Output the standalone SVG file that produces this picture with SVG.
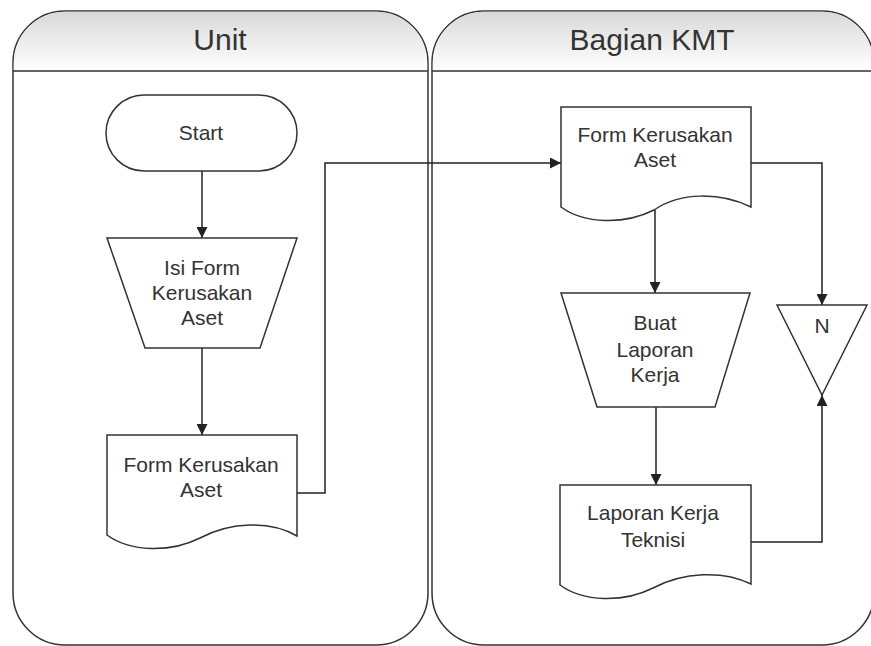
<svg xmlns="http://www.w3.org/2000/svg" width="871" height="646" viewBox="0 0 871 646">
  <style>
    .lane { fill: #ffffff; stroke: #333333; stroke-width: 1.5; }
    .hdr { fill: url(#hdrGrad); stroke: none; }
    .sep { stroke: #333333; stroke-width: 1.5; }
    .shape { fill: #ffffff; stroke: #333333; stroke-width: 1.5; }
    .conn { fill: none; stroke: #222222; stroke-width: 1.5; marker-end: url(#arrow); }
    .conn-plain { fill: none; stroke: #222222; stroke-width: 1.5; }
    .title { font-family: "Liberation Sans", Arial, sans-serif; font-size: 30px; fill: #333333; text-anchor: middle; }
    .label { font-family: "Liberation Sans", Arial, sans-serif; font-size: 21px; fill: #333333; text-anchor: middle; }
  </style>
  <defs>
    <linearGradient id="hdrGrad" x1="0" y1="0" x2="0" y2="1">
      <stop offset="0" stop-color="#d9d9d9"/>
      <stop offset="1" stop-color="#ffffff"/>
    </linearGradient>
    <marker id="arrow" viewBox="0 0 10 10" refX="10" refY="5" markerWidth="11" markerHeight="11" markerUnits="userSpaceOnUse" orient="auto">
      <path d="M0,0 L10,5 L0,10 Z" fill="#222222"/>
    </marker>
  </defs>

  <rect width="871" height="646" fill="#ffffff"/>

  <!-- Swimlane: Unit -->
  <g id="lane-unit">
    <path class="lane" d="M13,63 A52,52 0 0 1 65,11 L376,11 A52,52 0 0 1 428,63 L428,593 A52,52 0 0 1 376,645 L65,645 A52,52 0 0 1 13,593 Z"/>
    <path class="hdr" d="M13.8,71 L13.8,63 A51,51 0 0 1 65,11.8 L376,11.8 A51,51 0 0 1 427.2,63 L427.2,71 Z"/>
    <line class="sep" x1="13" y1="71" x2="428" y2="71"/>
    <text class="title" x="220" y="50">Unit</text>
  </g>

  <!-- Swimlane: Bagian KMT -->
  <g id="lane-kmt">
    <path class="lane" d="M432,63 A52,52 0 0 1 484,11 L822,11 A52,52 0 0 1 874,63 L874,593 A52,52 0 0 1 822,645 L484,645 A52,52 0 0 1 432,593 Z"/>
    <path class="hdr" d="M432.8,71 L432.8,63 A51,51 0 0 1 484,11.8 L822,11.8 A51,51 0 0 1 873.2,63 L873.2,71 Z"/>
    <line class="sep" x1="432" y1="71" x2="874" y2="71"/>
    <text class="title" x="652" y="50">Bagian KMT</text>
  </g>

  <!-- Connectors -->
  <g id="connectors">
    <path class="conn" d="M202,171 L202,238"/>
    <path class="conn" d="M202,348 L202,435"/>
    <path class="conn" d="M297,493 L325,493 L325,163 L561,163"/>
    <path class="conn" d="M655,210 L655,293"/>
    <path class="conn" d="M751,163 L822,163 L822,305"/>
    <path class="conn" d="M656,407 L656,485"/>
    <path class="conn" d="M751,542 L822,542 L822,395"/>
  </g>

  <!-- Start terminator -->
  <g id="start">
    <rect class="shape" x="106" y="95" width="191" height="76" rx="38" ry="38"/>
    <text class="label" x="201" y="140">Start</text>
  </g>

  <!-- Manual operation: Isi Form Kerusakan Aset -->
  <g id="isi-form">
    <path class="shape" d="M107,238 L297,238 L260,348 L145,348 Z"/>
    <text class="label" x="202" y="275">Isi Form</text>
    <text class="label" x="202" y="300">Kerusakan</text>
    <text class="label" x="202" y="325">Aset</text>
  </g>

  <!-- Document: Form Kerusakan Aset (Unit) -->
  <g id="form-unit">
    <path class="shape" d="M107,435 L297,435 L297,536 C270,520 230,522 200,538 C170,553 130,552 107,535 Z"/>
    <text class="label" x="201" y="472">Form Kerusakan</text>
    <text class="label" x="201" y="497">Aset</text>
  </g>

  <!-- Document: Form Kerusakan Aset (KMT) -->
  <g id="form-kmt">
    <path class="shape" d="M561,107 L751,107 L751,207 C720,192 680,192 654,210 C624,225 584,224 561,207 Z"/>
    <text class="label" x="655" y="142">Form Kerusakan</text>
    <text class="label" x="655" y="167">Aset</text>
  </g>

  <!-- Manual operation: Buat Laporan Kerja -->
  <g id="buat-laporan">
    <path class="shape" d="M561,293 L750,293 L715,407 L597,407 Z"/>
    <text class="label" x="655" y="330">Buat</text>
    <text class="label" x="655" y="357">Laporan</text>
    <text class="label" x="655" y="382">Kerja</text>
  </g>

  <!-- Offline storage: N -->
  <g id="storage-n">
    <path class="shape" d="M777,305 L867,305 L822,395 Z"/>
    <text class="label" x="822" y="333">N</text>
  </g>

  <!-- Document: Laporan Kerja Teknisi -->
  <g id="laporan-teknisi">
    <path class="shape" d="M560,485 L751,485 L751,584 C723,570 683,572 653,588 C623,603 583,602 560,585 Z"/>
    <text class="label" x="653" y="520">Laporan Kerja</text>
    <text class="label" x="653" y="547">Teknisi</text>
  </g>
</svg>
